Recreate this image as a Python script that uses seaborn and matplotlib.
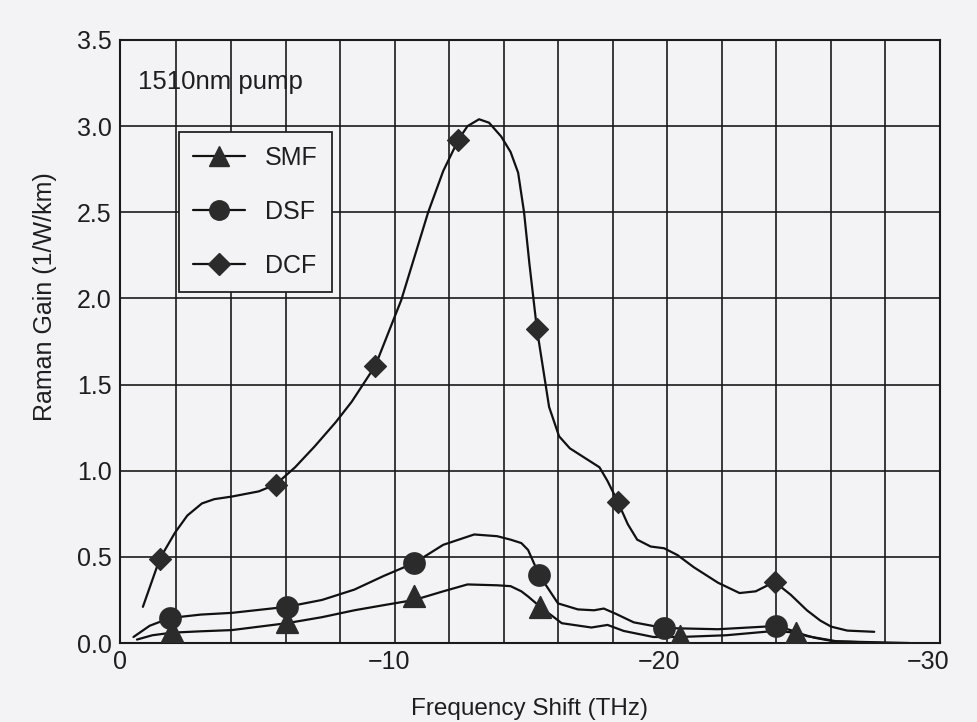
import numpy as np
import pandas as pd
import matplotlib
matplotlib.use("Agg")
import matplotlib.pyplot as plt
from matplotlib.lines import Line2D
import seaborn as sns

# ---- data ----
# DCF curve
dcf_x = [-0.85, -1.48, -2.04, -2.5, -3.04, -3.5, -4.15, -5.15, -5.78, -6.5, -7.22, -8.0, -8.6,
         -9.48, -10.44, -11.44, -12.0, -12.56, -12.9, -13.33, -13.7, -14.15, -14.5, -14.78,
         -15.0, -15.2, -15.48, -15.93, -16.3, -16.7, -17.1, -17.8, -18.1, -18.48,
         -18.85, -19.2, -19.7, -20.2, -20.7, -21.3, -22.2, -23.0, -23.6, -24.3, -24.9, -25.5,
         -26.0, -26.4, -27.0, -28.0]
dcf_y = [0.21, 0.49, 0.64, 0.74, 0.81, 0.835, 0.85, 0.88, 0.92, 1.02, 1.14, 1.28, 1.40,
         1.61, 1.99, 2.50, 2.74, 2.92, 3.00, 3.04, 3.02, 2.94, 2.85, 2.73,
         2.50, 2.20, 1.82, 1.37, 1.20, 1.13, 1.09, 1.02, 0.94, 0.82,
         0.69, 0.60, 0.56, 0.55, 0.51, 0.44, 0.35, 0.29, 0.30, 0.355, 0.28, 0.19,
         0.13, 0.095, 0.072, 0.065]
# DSF curve
dsf_x = [-0.5, -1.1, -1.85, -3.0, -4.15, -6.19, -7.5, -8.7, -9.8, -10.93, -12.0, -13.15, -14.0,
         -14.5, -14.9, -15.15, -15.56, -16.26, -17.0, -17.6, -17.96, -18.4, -19.07, -20.2,
         -22.2, -24.37, -25.0, -25.5, -26.6, -28.3]
dsf_y = [0.035, 0.10, 0.145, 0.165, 0.175, 0.21, 0.25, 0.31, 0.39, 0.465, 0.57, 0.63, 0.62,
         0.60, 0.58, 0.54, 0.395, 0.23, 0.195, 0.19, 0.20, 0.17, 0.12, 0.087,
         0.08, 0.099, 0.07, 0.04, 0.01, 0.0]
# SMF curve
smf_x = [-0.63, -1.2, -1.93, -3.0, -4.15, -6.19, -7.5, -8.7, -9.8, -10.93, -12.0, -12.9, -14.0,
         -14.5, -14.9, -15.15, -15.6, -16.4, -17.5, -18.1, -18.7, -19.8, -20.8, -22.5,
         -24.3, -25.1, -25.8, -26.5, -29.3]
smf_y = [0.02, 0.045, 0.06, 0.068, 0.075, 0.115, 0.15, 0.19, 0.22, 0.25, 0.30, 0.34, 0.335,
         0.33, 0.30, 0.27, 0.21, 0.115, 0.09, 0.105, 0.07, 0.035, 0.035, 0.045,
         0.07, 0.06, 0.03, 0.01, 0.0]

# measured points (markers)
dcf_mx = [-1.48, -5.78, -9.48, -12.56, -15.48, -18.48, -24.3]
dcf_my = [0.49, 0.92, 1.61, 2.92, 1.82, 0.82, 0.355]
dsf_mx = [-1.85, -6.19, -10.93, -15.56, -20.2, -24.37]
dsf_my = [0.145, 0.21, 0.465, 0.395, 0.087, 0.099]
smf_mx = [-1.93, -6.19, -10.93, -15.6, -20.8, -25.1]
smf_my = [0.07, 0.12, 0.27, 0.21, 0.04, 0.06]

series_names = ["SMF", "DSF", "DCF"]
x_ticks = [0, -10, -20, -30]
y_ticks = [0.0, 0.5, 1.0, 1.5, 2.0, 2.5, 3.0, 3.5]

# ---- style ----
sns.set_theme(style="white")
plt.rcParams["font.family"] = ["Liberation Sans", "DejaVu Sans"]
bg = "#f3f3f5"
ink = "#1e1e1e"

fig = plt.figure(figsize=(9.78, 7.22), dpi=100, facecolor=bg)
ax = fig.add_axes([0.1227, 0.1094, 0.8384, 0.8352])
ax.set_facecolor(bg)

xmin, xmax = -0.07, -30.44
ax.set_xlim(xmin, xmax)
ax.set_ylim(0, 3.5)

# grid
ax.set_xticks(x_ticks)
ax.set_xticklabels(["0", "\u221210", "\u221220", "\u221230"])
ax.set_xticks(np.linspace(xmin, xmax, 16)[1:-1], minor=True)
ax.set_yticks(y_ticks)
ax.set_yticklabels([f"{v:.1f}" for v in y_ticks])
ax.grid(False)
ax.grid(True, which="minor", axis="x", color="#1a1a1a", linewidth=1.2)
ax.grid(True, which="major", axis="y", color="#1a1a1a", linewidth=1.2)
ax.tick_params(axis="both", which="both", length=0, labelsize=18, colors=ink)
ax.tick_params(axis="y", pad=6)
ax.tick_params(axis="x", pad=5)
ax.set_axisbelow(True)
for s in ax.spines.values():
    s.set_color("#1a1a1a")
    s.set_linewidth(1.5)
    s.set_visible(True)

line_kw = dict(color="#111111", linewidth=1.6, legend=False, sort=False, estimator=None)
sns.lineplot(x=dcf_x, y=dcf_y, ax=ax, **line_kw)
sns.lineplot(x=dsf_x, y=dsf_y, ax=ax, **line_kw)
sns.lineplot(x=smf_x, y=smf_y, ax=ax, **line_kw)

mcol = "#2b2b2b"
sns.scatterplot(x=dcf_mx, y=dcf_my, marker="D", s=125, color=mcol, edgecolor=mcol, ax=ax, zorder=5)
sns.scatterplot(x=dsf_mx, y=dsf_my, marker="o", s=230, color=mcol, edgecolor=mcol, ax=ax, zorder=5)
sns.scatterplot(x=smf_mx, y=smf_my, marker="^", s=240, color=mcol, edgecolor=mcol, ax=ax, zorder=5)

ax.set_xlabel("Frequency Shift (THz)", fontsize=17.5, color=ink, labelpad=17)
ax.set_ylabel("Raman Gain (1/W/km)", fontsize=18, color=ink)
ax.yaxis.set_label_coords(-0.077, 0.574)

ax.text(0.022, 0.930, "1510nm pump", transform=ax.transAxes, fontsize=18.5,
        color=ink, va="center", ha="left")

handles = [
    Line2D([], [], color="#111111", lw=1.6, marker="^", markersize=14, markerfacecolor=mcol, markeredgecolor=mcol),
    Line2D([], [], color="#111111", lw=1.6, marker="o", markersize=14, markerfacecolor=mcol, markeredgecolor=mcol),
    Line2D([], [], color="#111111", lw=1.6, marker="D", markersize=11, markerfacecolor=mcol, markeredgecolor=mcol),
]
leg = ax.legend(handles, series_names, loc="upper left", bbox_to_anchor=(0.072, 0.847),
                fontsize=18, frameon=True, fancybox=False, framealpha=1,
                facecolor=bg, edgecolor="#222222", handlelength=2.1, labelspacing=1.2,
                borderpad=0.55, handletextpad=0.8, borderaxespad=0)
leg.get_frame().set_linewidth(1.3)
for t in leg.get_texts():
    t.set_color(ink)

fig.savefig("out.png", dpi=100, facecolor=bg)
